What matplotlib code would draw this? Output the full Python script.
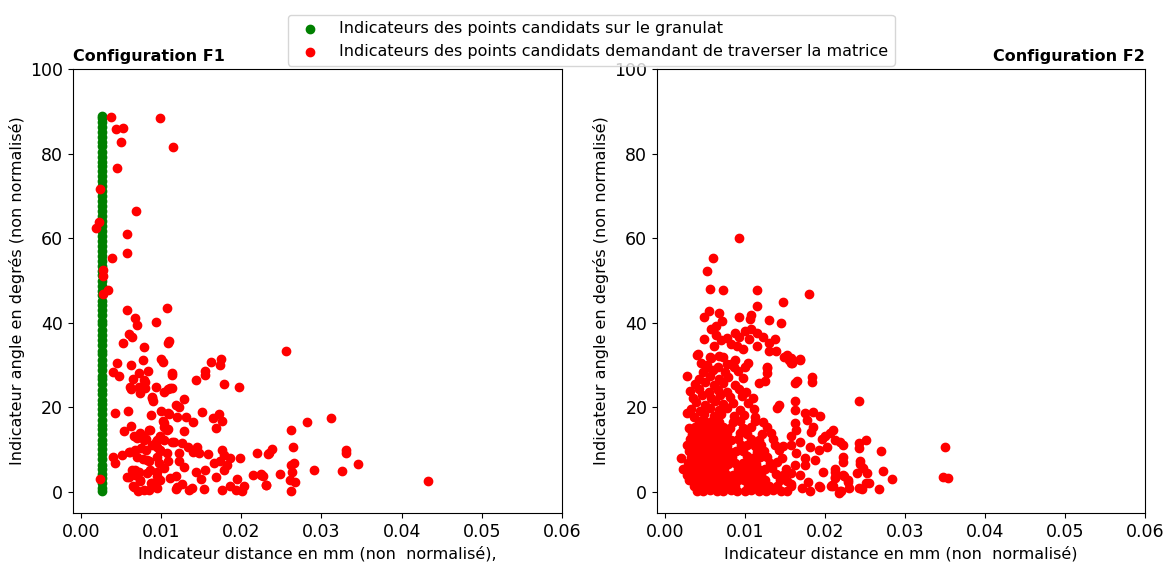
import matplotlib.pyplot as plt
import numpy as np

# configuration F1 : points sur le granulat (colonne verte)
f1_green_y = [0.2, 1.0, 2.1, 3.3, 4.2, 5.5, 6.4, 7.8, 8.9, 10.1, 11.3, 12.2, 13.6, 14.8,
              15.9, 17.0, 18.4, 19.5, 20.7, 21.8, 23.1, 24.0, 25.4, 26.6, 27.5, 28.9,
              30.0, 31.2, 32.5, 33.4, 34.8, 35.9, 37.1, 38.2, 39.6, 40.5, 41.8, 43.0,
              44.2, 45.1, 46.5, 47.6, 48.8, 49.9, 51.2, 52.3, 53.5, 54.6, 55.8, 57.0,
              58.1, 59.4, 60.5, 61.7, 62.8, 64.1, 65.2, 66.4, 67.5, 68.8, 69.9, 71.1,
              72.3, 73.4, 74.6, 75.8, 77.0, 78.1, 79.3, 80.4, 81.7, 82.8, 83.9, 85.1,
              86.2, 87.4, 88.3, 89.0]
f1_green_x = [0.0026] * len(f1_green_y)

# configuration F1 : points demandant de traverser la matrice
f1_red = [
    (0.0038, 88.7), (0.0099, 88.3), (0.0044, 85.8), (0.0052, 86.0), (0.0050, 82.8),
    (0.0115, 81.6), (0.0045, 76.7), (0.0024, 71.6), (0.0069, 66.4), (0.0022, 63.8),
    (0.0019, 62.3), (0.0057, 61.0), (0.0058, 56.4), (0.0039, 55.2), (0.0028, 52.4),
    (0.0028, 51.1), (0.0034, 47.8), (0.0027, 46.7),
    (0.0057, 43.0), (0.0107, 43.4), (0.0068, 41.0), (0.0070, 39.4), (0.0093, 40.2),
    (0.0060, 37.3), (0.0064, 36.6), (0.0052, 35.2), (0.0110, 35.7), (0.0108, 35.1),
    (0.0079, 34.2), (0.0045, 30.5), (0.0063, 29.9), (0.0077, 31.1), (0.0100, 31.5),
    (0.0102, 30.7), (0.0040, 28.4), (0.0047, 27.5), (0.0065, 26.8), (0.0072, 28.0),
    (0.0084, 28.5), (0.0079, 26.5), (0.0113, 28.2), (0.0113, 27.6), (0.0162, 30.7),
    (0.0175, 31.4), (0.0174, 30.1), (0.0155, 28.5), (0.0155, 27.6), (0.0144, 26.5),
    (0.0179, 25.5), (0.0197, 24.9), (0.0062, 24.3), (0.0073, 24.7), (0.0074, 23.3),
    (0.0080, 24.5), (0.0094, 24.7), (0.0104, 23.5), (0.0108, 24.4), (0.0113, 24.5),
    (0.0089, 22.4), (0.0090, 21.6), (0.0128, 21.9), (0.0118, 20.6), (0.0122, 20.0),
    (0.0042, 18.7), (0.0059, 19.2), (0.0087, 18.1), (0.0100, 19.1), (0.0110, 18.3),
    (0.0120, 17.6), (0.0131, 17.8), (0.0140, 16.5), (0.0151, 18.8), (0.0165, 17.4),
    (0.0172, 18.3), (0.0176, 16.8), (0.0169, 15.2), (0.0054, 14.5), (0.0063, 15.5),
    (0.0085, 14.6), (0.0102, 16.7), (0.0104, 15.3), (0.0109, 14.8), (0.0129, 14.3),
    (0.0066, 13.3), (0.0070, 12.7), (0.0077, 13.3), (0.0081, 12.6), (0.0094, 11.9),
    (0.0099, 13.2), (0.0103, 12.3), (0.0114, 11.8), (0.0126, 11.6), (0.0088, 11.0),
    (0.0095, 10.7), (0.0134, 10.5), (0.0145, 10.6), (0.0075, 10.3), (0.0060, 9.5),
    (0.0068, 9.8), (0.0081, 10.0), (0.0099, 9.7), (0.0107, 9.1), (0.0122, 9.1),
    (0.0140, 9.5), (0.0147, 9.1), (0.0158, 9.0), (0.0176, 10.0), (0.0178, 8.7),
    (0.0040, 8.2), (0.0051, 8.6), (0.0042, 6.8), (0.0077, 7.8), (0.0085, 7.2),
    (0.0097, 6.9), (0.0108, 7.2), (0.0122, 7.4), (0.0166, 6.8), (0.0173, 7.2),
    (0.0186, 8.0), (0.0198, 7.9), (0.0219, 9.3), (0.0234, 9.1), (0.0064, 5.2),
    (0.0068, 4.1), (0.0073, 4.6), (0.0086, 5.2), (0.0104, 5.6), (0.0129, 5.9),
    (0.0143, 4.6), (0.0155, 5.2), (0.0178, 5.2), (0.0182, 6.4), (0.0024, 3.0),
    (0.0057, 3.4), (0.0074, 2.6), (0.0088, 2.2), (0.0095, 3.8), (0.0111, 3.2),
    (0.0118, 3.7), (0.0126, 1.9), (0.0138, 1.0), (0.0150, 3.0), (0.0169, 3.4),
    (0.0195, 3.1), (0.0215, 3.9), (0.0224, 4.0), (0.0231, 1.7), (0.0065, 1.3),
    (0.0071, 0.2), (0.0085, 0.5), (0.0118, 0.6), (0.0135, 0.5), (0.0153, 0.6),
    (0.0176, 0.5), (0.0186, 1.3), (0.0193, 0.5), (0.0201, 0.3), (0.0203, 1.3),
    (0.0061, 24.7), (0.0080, 26.1), (0.0111, 24.5), (0.0088, 22.1), (0.0109, 18.6),
    (0.0103, 16.2), (0.0107, 14.7), (0.0074, 13.9), (0.0078, 12.3), (0.0086, 14.7),
    (0.0095, 12.3), (0.0099, 10.0), (0.0061, 9.5), (0.0070, 8.3), (0.0082, 7.6),
    (0.0095, 8.3), (0.0116, 11.9), (0.0068, 5.2), (0.0082, 4.4), (0.0095, 4.8),
    (0.0060, 3.6), (0.0074, 2.8), (0.0087, 2.0), (0.0099, 2.8), (0.0066, 1.2),
    (0.0078, 0.5), (0.0095, 0.8), (0.0120, 1.2),
    (0.0256, 33.3), (0.0312, 17.4), (0.0282, 16.6), (0.0262, 14.7), (0.0264, 10.6),
    (0.0238, 10.1), (0.0233, 8.9), (0.0330, 10.0), (0.0330, 9.3), (0.0345, 6.7),
    (0.0266, 6.9), (0.0262, 6.4), (0.0263, 4.7), (0.0291, 5.2), (0.0326, 4.9),
    (0.0248, 4.2), (0.0227, 3.8), (0.0224, 4.3), (0.0231, 1.6), (0.0261, 2.7),
    (0.0267, 2.4), (0.0262, 0.3), (0.0433, 2.6),
]

# configuration F2 : nuage dense
f2_core = [
    (0.0040, 0.3), (0.0048, 0.2), (0.0056, 0.4), (0.0065, 0.3), (0.0073, 0.2), (0.0082, 0.4),
    (0.0090, 0.3), (0.0100, 0.2), (0.0108, 0.4), (0.0117, 0.3), (0.0126, 0.2), (0.0135, 0.4),
    (0.0145, 0.3), (0.0153, 0.2),
    (0.0036, 1.4), (0.0044, 1.6), (0.0052, 1.3), (0.0061, 1.5), (0.0069, 1.4), (0.0078, 1.6),
    (0.0087, 1.3), (0.0104, 1.4), (0.0113, 1.6), (0.0121, 1.3), (0.0130, 1.5),
    (0.0140, 1.4), (0.0158, 1.3),
    (0.0030, 2.7), (0.0039, 2.9), (0.0047, 2.6), (0.0055, 2.8), (0.0064, 2.7), (0.0072, 2.9),
    (0.0081, 2.6), (0.0091, 2.8), (0.0099, 2.7), (0.0109, 2.9), (0.0117, 2.6), (0.0125, 2.8),
    (0.0144, 2.9), (0.0152, 2.6),
    (0.0027, 4.0), (0.0035, 4.2), (0.0043, 3.9), (0.0051, 4.1), (0.0060, 4.0), (0.0068, 4.2),
    (0.0077, 3.9), (0.0085, 4.1), (0.0094, 4.0), (0.0103, 4.2), (0.0111, 3.9), (0.0120, 4.1),
    (0.0139, 4.2), (0.0147, 3.9),
    (0.0023, 5.4), (0.0031, 5.6), (0.0040, 5.3), (0.0048, 5.5), (0.0057, 5.4), (0.0065, 5.6),
    (0.0074, 5.3), (0.0091, 5.4), (0.0100, 5.6), (0.0108, 5.3), (0.0116, 5.5),
    (0.0125, 5.4), (0.0134, 5.6), (0.0151, 5.5),
    (0.0029, 6.8), (0.0037, 7.0), (0.0045, 6.7), (0.0054, 6.9), (0.0062, 6.8), (0.0071, 7.0),
    (0.0079, 6.7), (0.0088, 6.9), (0.0097, 6.8), (0.0105, 7.0), (0.0114, 6.7),
    (0.0131, 6.8), (0.0140, 7.0),
    (0.0020, 8.0), (0.0033, 8.3), (0.0041, 8.1), (0.0050, 8.3), (0.0059, 8.2), (0.0067, 8.4),
    (0.0076, 8.1), (0.0084, 8.3), (0.0102, 8.4), (0.0110, 8.1), (0.0119, 8.3),
    (0.0128, 8.2), (0.0146, 8.1),
    (0.0030, 9.6), (0.0038, 9.8), (0.0046, 9.5), (0.0055, 9.7), (0.0064, 9.6), (0.0072, 9.8),
    (0.0081, 9.5), (0.0089, 9.7), (0.0098, 9.6), (0.0115, 9.5), (0.0124, 9.7),
    (0.0142, 9.8),
    (0.0027, 11.0), (0.0035, 11.2), (0.0043, 10.9), (0.0052, 11.1), (0.0060, 11.0),
    (0.0069, 11.2), (0.0077, 10.9), (0.0095, 11.0), (0.0103, 11.2),
    (0.0112, 10.9), (0.0120, 11.1), (0.0138, 11.2), (0.0148, 10.9),
    (0.0031, 12.4), (0.0039, 12.6), (0.0048, 12.3), (0.0057, 12.5), (0.0065, 12.4),
    (0.0074, 12.6), (0.0082, 12.3), (0.0091, 12.5), (0.0108, 12.6),
    (0.0117, 12.3), (0.0135, 12.4),
    (0.0034, 13.8), (0.0043, 14.0), (0.0051, 13.7), (0.0060, 13.9), (0.0068, 13.8),
    (0.0077, 14.0), (0.0094, 13.9), (0.0103, 13.8), (0.0121, 13.7), (0.0132, 13.9),
    (0.0030, 15.2), (0.0038, 15.4), (0.0047, 15.1), (0.0055, 15.3), (0.0064, 15.2),
    (0.0072, 15.4), (0.0081, 15.1), (0.0098, 15.2), (0.0107, 15.4), (0.0127, 15.3),
    (0.0042, 16.8), (0.0051, 16.5), (0.0059, 16.7), (0.0068, 16.6),
    (0.0085, 16.5), (0.0094, 16.7), (0.0112, 16.8), (0.0122, 16.5),
    (0.0027, 18.6), (0.0036, 17.8), (0.0049, 18.3), (0.0061, 17.9), (0.0070, 18.4),
    (0.0086, 18.0), (0.0099, 18.2),
    (0.0033, 19.6), (0.0044, 19.2), (0.0056, 19.8), (0.0068, 19.3), (0.0078, 19.9),
    (0.0094, 19.4), (0.0111, 19.6),
    (0.0039, 21.2), (0.0050, 20.6), (0.0063, 21.4), (0.0073, 20.7), (0.0085, 21.1),
    (0.0104, 20.9),
    (0.0035, 22.3), (0.0046, 22.8), (0.0058, 22.1), (0.0069, 22.9), (0.0081, 22.4),
    (0.0096, 22.6), (0.0110, 22.2),
    (0.0031, 23.9), (0.0043, 24.3), (0.0055, 23.6), (0.0066, 24.2), (0.0077, 23.7),
    (0.0092, 24.4), (0.0101, 23.5),
    (0.0038, 25.4), (0.0050, 25.9), (0.0061, 25.2), (0.0072, 25.8), (0.0088, 25.3),
    (0.0117, 25.7),
    (0.0027, 27.3), (0.0043, 26.8), (0.0056, 27.4), (0.0067, 26.6), (0.0079, 27.2),
    (0.0097, 26.9), (0.0125, 26.2),
    (0.0047, 28.4), (0.0060, 28.9), (0.0075, 28.3), (0.0091, 28.7), (0.0128, 28.0),
    (0.0053, 30.1), (0.0066, 29.6), (0.0083, 30.3), (0.0104, 30.5), (0.0128, 29.2),
    (0.0040, 32.4), (0.0058, 31.6), (0.0072, 32.0), (0.0088, 31.3), (0.0152, 32.4),
    (0.0158, 31.6),
]

# configuration F2 : points au-dessus du nuage
f2_upper = [
    (0.0092, 60.0), (0.0060, 55.3), (0.0053, 52.3), (0.0056, 47.9), (0.0073, 47.8),
    (0.0115, 47.7), (0.0180, 46.8), (0.0147, 44.9), (0.0115, 44.0), (0.0055, 42.8),
    (0.0068, 42.3), (0.0049, 41.4), (0.0092, 41.3), (0.0108, 41.9), (0.0106, 40.8),
    (0.0071, 40.5), (0.0130, 40.6), (0.0145, 40.0), (0.0064, 39.2), (0.0057, 38.6),
    (0.0088, 37.5), (0.0100, 38.1), (0.0108, 38.4), (0.0115, 37.5), (0.0064, 37.0),
    (0.0078, 36.5), (0.0093, 36.7), (0.0049, 36.2), (0.0070, 35.8), (0.0105, 36.1),
    (0.0122, 36.6), (0.0138, 36.1), (0.0082, 35.0), (0.0090, 34.4), (0.0115, 34.6),
    (0.0061, 34.6), (0.0098, 33.7), (0.0130, 35.1), (0.0130, 33.3), (0.0139, 33.2),
    (0.0041, 32.6), (0.0056, 32.0), (0.0068, 32.2), (0.0149, 32.0), (0.0155, 31.2),
    (0.0159, 30.4), (0.0169, 31.3), (0.0045, 30.4), (0.0052, 29.6), (0.0078, 30.2),
    (0.0086, 29.5), (0.0100, 29.6), (0.0128, 29.6),
]

# configuration F2 : queue à droite
f2_right = [
    (0.0169, 31.4), (0.0158, 30.4), (0.0165, 26.2), (0.0184, 27.2), (0.0184, 26.1),
    (0.0163, 25.8), (0.0163, 21.5), (0.0140, 19.8), (0.0142, 20.6), (0.0112, 17.6),
    (0.0163, 19.4), (0.0175, 18.6), (0.0185, 19.0), (0.0194, 18.0), (0.0163, 16.2),
    (0.0177, 17.0), (0.0185, 15.4), (0.0183, 14.1), (0.0164, 14.7), (0.0158, 13.1),
    (0.0169, 11.8), (0.0210, 14.7), (0.0206, 13.9), (0.0200, 13.1), (0.0196, 12.6),
    (0.0212, 12.3), (0.0219, 11.8), (0.0223, 11.0), (0.0158, 11.1), (0.0181, 10.7),
    (0.0192, 9.9), (0.0164, 9.1), (0.0175, 7.9), (0.0187, 7.5), (0.0222, 8.3),
    (0.0163, 6.3), (0.0175, 6.3), (0.0198, 4.6), (0.0212, 5.4), (0.0158, 4.4),
    (0.0169, 4.0), (0.0179, 2.4), (0.0212, 3.2), (0.0223, 3.9), (0.0229, 2.4),
    (0.0158, 1.8), (0.0171, 0.9), (0.0181, 0.3), (0.0192, 1.3), (0.0208, 1.5),
    (0.0219, 0.3), (0.0194, 1.2), (0.0209, 1.6), (0.0218, -0.2), (0.0202, 10.7),
    (0.0243, 21.6), (0.0242, 11.5), (0.0244, 7.3), (0.0242, 0.9), (0.0251, 12.3),
    (0.0243, 10.4), (0.0270, 9.7), (0.0222, 7.1), (0.0244, 6.6), (0.0248, 5.7),
    (0.0272, 4.9), (0.0240, 4.4), (0.0252, 4.4), (0.0212, 4.7), (0.0284, 3.0),
    (0.0213, 3.4), (0.0224, 3.8), (0.0229, 2.8), (0.0210, 1.5), (0.0230, 0.9),
    (0.0220, 0.1), (0.0246, 0.7), (0.0255, 2.0), (0.0251, 2.0), (0.0267, 0.6),
    (0.0350, 10.6), (0.0348, 3.4), (0.0354, 3.3),
]

legend_labels = ["Indicateurs des points candidats sur le granulat",
                 "Indicateurs des points candidats demandant de traverser la matrice"]
x_ticks = [0.00, 0.01, 0.02, 0.03, 0.04, 0.05, 0.06]
y_ticks = [0, 20, 40, 60, 80, 100]


def style_axes(ax, xlabel):
    ax.set_xlim(-0.001, 0.06)
    ax.set_ylim(-5, 100)
    ax.set_xticks(x_ticks)
    ax.set_yticks(y_ticks)
    ax.tick_params(labelsize=12.5)
    ax.set_xlabel(xlabel, fontsize=11.5)
    ax.set_ylabel('Indicateur angle en degrés (non normalisé)', fontsize=11.5)


def main():
    fig = plt.figure(figsize=(11.73, 5.63), dpi=100)
    ax1 = fig.add_axes([0.0622, 0.0888, 0.4169, 0.7886])
    ax2 = fig.add_axes([0.5601, 0.0888, 0.4160, 0.7886])

    r1 = np.array(f1_red)
    g = ax1.scatter(f1_green_x, f1_green_y, color='green', s=36, zorder=2)
    r = ax1.scatter(r1[:, 0], r1[:, 1], color='red', s=36, zorder=3)
    style_axes(ax1, 'Indicateur distance en mm (non  normalisé),')
    ax1.set_title('Configuration F1', loc='left', fontweight='bold', fontsize=11.5)

    r2 = np.array(f2_core + f2_upper + f2_right)
    ax2.scatter(r2[:, 0], r2[:, 1], color='red', s=36)
    style_axes(ax2, 'Indicateur distance en mm (non  normalisé)')
    ax2.set_title('Configuration F2', loc='right', fontweight='bold', fontsize=11.5)

    fig.legend([g, r], legend_labels, loc='upper center',
               bbox_to_anchor=(0.504, 0.988), fontsize=11.5)
    fig.savefig('out.png', dpi=100)


if __name__ == '__main__':
    main()
